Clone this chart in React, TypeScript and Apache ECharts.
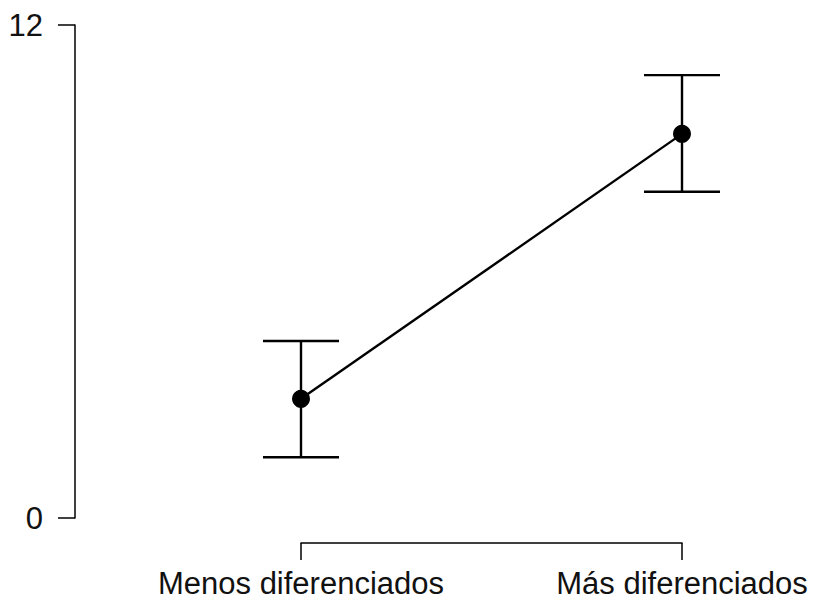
import React, { useEffect, useRef } from "react";
import * as echarts from "echarts";

const categories = ["Menos diferenciados", "Más diferenciados"];
const means = [2.9, 9.35];
const lower = [1.48, 7.94];
const upper = [4.31, 10.78];
const yTicks = [0, 12];

export default function App() {
  const ref = useRef<HTMLDivElement>(null);
  useEffect(() => {
    if (!ref.current) return;
    const chart = echarts.init(ref.current, null, { renderer: "svg" });
    const font = "Liberation Sans, Arial, sans-serif";
    const errData = categories.map((c, i) => [i, lower[i], upper[i]]);
    chart.setOption({
      animation: false,
      backgroundColor: "#fff",
      grid: { left: 301, right: 132, top: 25, bottom: 83 },
      xAxis: {
        type: "category",
        data: categories,
        boundaryGap: false,
        offset: 25,
        axisLine: { show: true, onZero: false, lineStyle: { color: "#000", width: 1.5 } },
        axisTick: { show: true, length: 17, lineStyle: { color: "#000", width: 1.5 } },
        axisLabel: { color: "#111", fontSize: 31, lineHeight: 26, fontFamily: font, margin: 27, interval: 0 },
        splitLine: { show: false },
      },
      yAxis: {
        type: "value",
        min: yTicks[0],
        max: yTicks[1],
        interval: yTicks[1] - yTicks[0],
        offset: 226,
        axisLine: { show: true, onZero: false, lineStyle: { color: "#000", width: 1.5 } },
        axisTick: { show: true, length: 17, lineStyle: { color: "#000", width: 1.5 } },
        axisLabel: { color: "#111", fontSize: 31, fontFamily: font, margin: 32 },
        splitLine: { show: false },
      },
      series: [
        {
          type: "custom",
          data: errData,
          clip: false,
          renderItem: (params: any, api: any) => {
            const x = api.value(0);
            const lo = api.coord([x, api.value(1)]);
            const hi = api.coord([x, api.value(2)]);
            const hw = 38;
            const style = { stroke: "#000", lineWidth: 2.4 };
            return {
              type: "group",
              children: [
                { type: "line", shape: { x1: lo[0], y1: lo[1], x2: hi[0], y2: hi[1] }, style },
                { type: "line", shape: { x1: lo[0] - hw, y1: lo[1], x2: lo[0] + hw, y2: lo[1] }, style },
                { type: "line", shape: { x1: hi[0] - hw, y1: hi[1], x2: hi[0] + hw, y2: hi[1] }, style },
              ],
            };
          },
          z: 1,
        },
        {
          type: "line",
          data: means,
          symbol: "circle",
          symbolSize: 18,
          lineStyle: { color: "#000", width: 2.4 },
          itemStyle: { color: "#000" },
          z: 2,
        },
      ],
    });
    return () => chart.dispose();
  }, []);
  return (
    <div
      ref={ref}
      style={{ position: "fixed", left: 0, top: 0, width: 814, height: 601 }}
    />
  );
}
